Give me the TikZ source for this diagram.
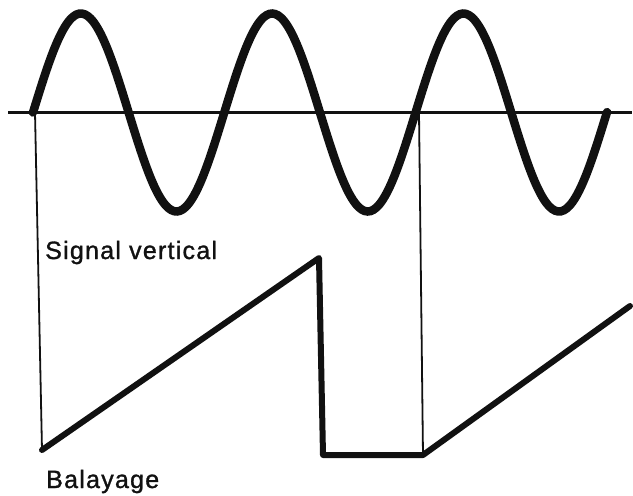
\documentclass[tikz,border=0pt]{standalone}
\usepackage{fontspec}
\setmainfont{Liberation Sans}[LetterSpace=5,FakeBold=1.2]
\usepackage{xcolor}
\definecolor{Paper}{HTML}{FFFFFF}
\definecolor{Ink}{HTML}{111111}

\begin{document}
\begin{tikzpicture}[x=1pt,y=-1pt]
\fill[Paper] (0,0) rectangle (633,496);
\useasboundingbox (0,0) rectangle (633,496);
% points of the picture
\coordinate (axisL) at (8,112.5);
\coordinate (axisR) at (632,112.5);
\coordinate (sweepA) at (42,450);
\coordinate (sweepB) at (319,258);
\coordinate (sweepC) at (323,455);
\coordinate (sweepD) at (423,455);
\coordinate (sweepE) at (630,306);
\coordinate (startS) at (35,112.5);
\coordinate (startT) at (419,112.5);
\draw[Ink, line width=3pt] (axisL) -- (axisR);
\draw[Ink, line width=8.5pt, line cap=round] plot[domain=33:607, samples=200, smooth] (\x,{112.5-99*sin(1.8819*(\x-33))});
\draw[Ink, line width=1.8pt] (startS) -- (sweepA);
\draw[Ink, line width=1.8pt] (startT) -- (sweepD);
\draw[Ink, line width=6pt, line join=round, line cap=round] (sweepA) -- (sweepB) -- (sweepC) -- (sweepD) -- (sweepE);
\node[anchor=base west, text=Ink, inner sep=0pt, font=\fontsize{25}{28}\selectfont] (signal) at (45,259) {Signal vertical};
\node[anchor=base west, text=Ink, inner sep=0pt, font=\fontsize{25}{28}\selectfont] (balayage) at (46,488) {Balayage};
\end{tikzpicture}
\end{document}
